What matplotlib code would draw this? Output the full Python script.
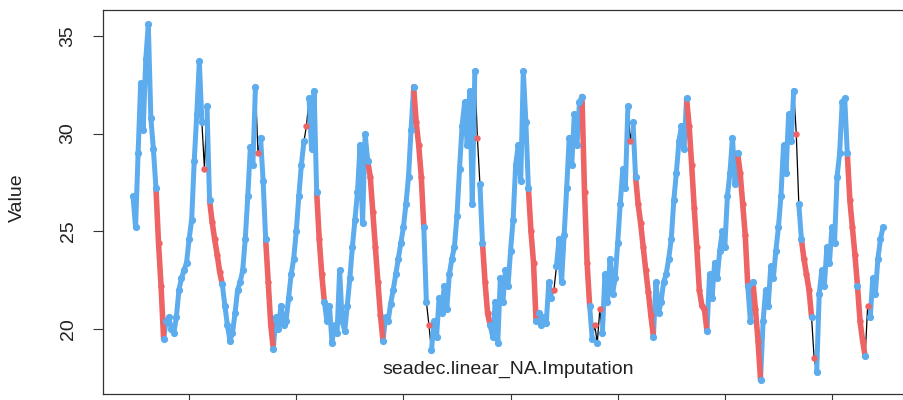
import numpy as np
import matplotlib
matplotlib.use('Agg')
import matplotlib.pyplot as plt

plt.rcParams['font.family'] = ['Liberation Sans', 'DejaVu Sans']

#----------------------------------------------------
# Dati (21 valori per anno)
#----------------------------------------------------
cycle_01 = [26.8, 25.2, 29.0, 32.6, 30.2, 33.8, 35.6, 30.8, 29.2, 27.2, 24.4,
            22.2, 19.5, 20.4, 20.6, 20.0, 19.8, 20.6, 22.0, 22.6, 23.0]
cycle_02 = [23.4, 24.6, 25.6, 28.6, 31.0, 33.7, 30.6, 28.2, 31.4, 26.6, 25.5,
            24.6, 23.8, 22.9, 22.3, 21.2, 20.2, 19.4, 19.8, 20.8, 22.0]
cycle_03 = [22.4, 23.0, 24.6, 26.8, 29.3, 28.4, 32.4, 29.0, 29.8, 27.6, 24.6,
            22.4, 20.2, 19.0, 20.6, 20.0, 21.2, 20.2, 20.4, 21.6, 22.8]
cycle_04 = [23.6, 25.0, 26.8, 28.4, 29.6, 30.4, 31.8, 29.2, 32.2, 27.0, 24.6,
            22.8, 21.4, 20.4, 21.2, 19.3, 20.2, 19.8, 23.0, 20.4, 19.9]
cycle_05 = [21.2, 22.6, 24.2, 25.6, 27.0, 29.4, 25.4, 30.0, 28.6, 27.8, 26.0,
            24.2, 22.4, 20.7, 19.4, 20.6, 20.4, 21.3, 22.0, 22.8, 23.6]
cycle_06 = [24.4, 25.2, 26.4, 27.8, 30.2, 32.4, 30.6, 29.4, 27.8, 25.2, 21.4,
            20.2, 18.9, 20.4, 19.6, 21.6, 20.8, 22.2, 21.0, 22.8, 23.6]
cycle_07 = [24.2, 25.8, 28.2, 30.4, 31.6, 29.4, 32.2, 26.4, 33.2, 29.8, 27.4,
            24.4, 22.4, 20.8, 20.2, 19.6, 21.4, 19.3, 22.6, 21.4, 23.0]
cycle_08 = [22.2, 24.0, 25.6, 28.4, 29.4, 27.6, 33.2, 30.6, 27.2, 25.0, 23.4,
            20.4, 20.8, 20.2, 20.6, 20.3, 22.4, 21.6, 22.0, 23.2, 24.6]
cycle_09 = [22.4, 24.8, 27.2, 29.8, 28.4, 31.0, 29.4, 31.6, 31.9, 27.0, 23.4,
            21.2, 19.5, 20.2, 19.3, 21.0, 19.8, 22.8, 21.4, 23.6, 21.8]
cycle_10 = [22.6, 24.4, 26.4, 28.2, 27.2, 31.4, 29.6, 30.6, 27.8, 26.4, 25.4,
            24.2, 23.0, 21.9, 20.7, 19.6, 22.4, 20.8, 21.4, 22.4, 22.8]
cycle_11 = [23.6, 24.6, 26.6, 28.0, 29.6, 30.4, 29.2, 31.8, 30.4, 28.4, 26.2,
            24.2, 22.0, 21.2, 21.0, 19.9, 22.8, 21.6, 23.4, 22.6, 24.0]
cycle_12 = [25.0, 24.2, 26.8, 28.0, 29.8, 27.4, 29.0, 28.0, 26.4, 24.8, 22.2,
            20.4, 22.4, 21.0, 19.4, 17.4, 20.4, 22.0, 21.2, 23.2, 22.6]
cycle_13 = [24.0, 25.2, 26.8, 29.4, 28.0, 31.0, 29.6, 32.2, 30.0, 26.4, 24.6,
            23.6, 22.8, 22.0, 20.6, 18.5, 17.8, 21.8, 23.0, 22.2, 24.2]
cycle_14 = [23.4, 25.2, 24.4, 27.8, 29.0, 31.6, 31.8, 29.0, 26.6, 25.2, 23.8,
            22.2, 20.4, 19.4, 18.6, 21.2, 20.6, 22.6, 21.8, 23.6, 24.6, 25.2]

# posizioni dei valori imputati (NA riempiti)
imputed_idx = [10, 11, 28, 31, 32, 33, 34, 49, 53, 54, 68, 73, 74,
               93, 94, 95, 96, 97, 111, 112, 113, 116, 135, 138, 139,
               156, 157, 165, 177, 178, 181, 183, 195,
               198, 199, 200, 201, 202, 203,
               218, 219, 220, 221, 222, 223, 224,
               238, 239, 240, 244, 245, 260, 263, 264, 265, 267,
               281, 282, 283, 285, 286, 288]

start_year = 2001 + 20 / 21
freq = 21
year_ticks = [2003, 2005, 2007, 2009, 2011, 2013, 2015]
value_ticks = [20, 25, 30, 35]
sub_label = 'seadec.linear_NA.Imputation'

col_obs = '#5CACEE'   # steelblue2
col_imp = '#EE6363'   # indianred2

#----------------------------------------------------
# Preparo la serie
#----------------------------------------------------
values = np.array(cycle_01 + cycle_02 + cycle_03 + cycle_04 + cycle_05 +
                  cycle_06 + cycle_07 + cycle_08 + cycle_09 + cycle_10 +
                  cycle_11 + cycle_12 + cycle_13 + cycle_14)
n = len(values)
t = start_year + np.arange(n) / freq
mask = np.zeros(n, dtype=bool)
mask[imputed_idx] = True
obs = values.copy()
obs[mask] = np.nan   # serie originale con i buchi

# raggruppo gli indici imputati consecutivi
runs = []
for i in imputed_idx:
    if runs and i == runs[-1][1] + 1:
        runs[-1][1] = i
    else:
        runs.append([i, i])

#----------------------------------------------------
# Grafico
#----------------------------------------------------
fig = plt.figure(figsize=(9.04, 4.0), dpi=100)
ax = fig.add_axes([103 / 904, 6 / 400, 810 / 904, 384 / 400])

ax.plot(t, values, color='black', lw=0.9, zorder=1)
# banda delle osservazioni (punti fitti)
ax.plot(t, obs, color=col_obs, lw=3.6, solid_joinstyle='round',
        solid_capstyle='round', zorder=2)
# tratti imputati (solo buchi di piu punti)
for a, b in runs:
    if b > a:
        seg = slice(max(a - 1, 0), min(b + 2, n))
        ax.plot(t[seg], values[seg], color=col_imp, lw=4.0,
                solid_capstyle='round', zorder=3)
ax.plot(t[mask], values[mask], 'o', ms=4.6, color=col_imp, mec='none', zorder=4)
ax.plot(t[~mask], values[~mask], 'o', ms=5.2, color=col_obs, mec='none', zorder=5)

# limiti stile R (4% in piu)
xr = t[-1] - t[0]
yr = values.max() - values.min()
ax.set_xlim(t[0] - 0.04 * xr, t[-1] + 0.04 * xr)
ax.set_ylim(values.min() - 0.04 * yr, values.max() + 0.04 * yr)

ax.set_xticks(year_ticks)
ax.set_xticklabels([])
ax.set_yticks(value_ticks)
ax.set_yticklabels([str(v) for v in value_ticks], rotation=90, va='center')
ax.tick_params(direction='out', length=7, width=0.8, color='#333333',
               labelsize=14, labelcolor='#222222', pad=12)
for s in ax.spines.values():
    s.set_color('#333333')
    s.set_linewidth(0.9)

ax.text(0.5, 0.065, sub_label, transform=ax.transAxes, ha='center',
        va='center', fontsize=14, color='#222222')
fig.text(17 / 904, 202 / 400, 'Value', rotation=90, ha='center',
         va='center', fontsize=14, color='#222222')

plt.savefig('out.png', dpi=100)
